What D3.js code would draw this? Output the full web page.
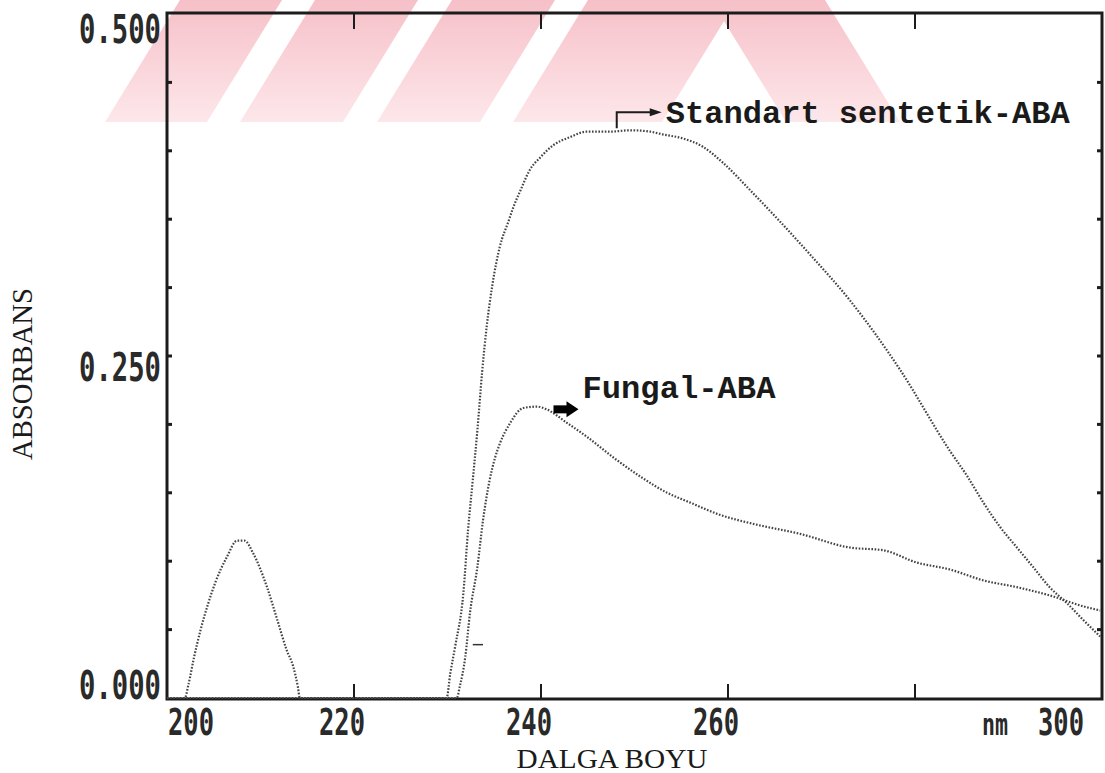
<!DOCTYPE html>
<html><head><meta charset="utf-8">
<script src="https://cdn.jsdelivr.net/npm/d3@7"></script>
<style>body{margin:0;background:#fff}svg{display:block}</style>
</head><body>
<svg id="chart" width="1105" height="773"></svg>
<script>
// ---------- data ----------
const standardNm  = [200, 229.9, 230.3, 230.8, 231.7, 232.2, 232.7, 233.2, 233.7, 234.2, 234.8, 235.6, 236.5, 237.0, 237.8, 238.8, 239.9, 241.3, 243.1, 244.9, 247.4, 249.5, 251.7, 253.0, 255.2, 257.3, 259.5, 262.4, 265.6, 268.8, 273.0, 278.4, 283.7, 285.6, 287.3, 289.1, 290.9, 292.6, 294.4, 296.3, 298.0, 299.8];
const standardAbs = [0, 0, 0.018, 0.037, 0.077, 0.123, 0.159, 0.196, 0.238, 0.272, 0.302, 0.330, 0.348, 0.358, 0.371, 0.386, 0.395, 0.404, 0.410, 0.414, 0.414, 0.415, 0.414, 0.412, 0.409, 0.403, 0.391, 0.371, 0.348, 0.324, 0.291, 0.240, 0.181, 0.162, 0.143, 0.125, 0.110, 0.096, 0.081, 0.069, 0.057, 0.045];
const fungalNm  = [200, 201.9, 202.3, 202.9, 203.6, 204.4, 205.2, 206.4, 207.5, 208.3, 209.2, 210.7, 211.8, 212.8, 213.5, 214.0, 214.2, 231.0, 231.3, 231.9, 232.4, 233.2, 233.8, 234.5, 235.1, 235.6, 236.7, 238.1, 239.6, 240.6, 242.8, 244.9, 247.7, 250.6, 253.5, 255.9, 259.1, 262.9, 267.7, 273.0, 276.6, 280.2, 283.7, 287.3, 290.9, 294.4, 298.0, 299.8];
const fungalAbs = [0, 0, 0.010, 0.030, 0.050, 0.069, 0.085, 0.103, 0.115, 0.115, 0.106, 0.081, 0.057, 0.035, 0.023, 0.008, 0, 0, 0.008, 0.030, 0.062, 0.096, 0.130, 0.159, 0.176, 0.186, 0.201, 0.212, 0.213, 0.211, 0.201, 0.191, 0.176, 0.162, 0.150, 0.143, 0.134, 0.127, 0.120, 0.110, 0.108, 0.099, 0.094, 0.086, 0.081, 0.075, 0.067, 0.064];
const xTickLabels = [200, 220, 240, 260, 300];
const xTicks = [220, 240, 260, 280];
const yTickLabels = [0, 0.25, 0.5];
const yTicks = [0.05, 0.10, 0.15, 0.20, 0.25, 0.30, 0.35, 0.40, 0.45];
const labels = {x: "DALGA BOYU", y: "ABSORBANS", unit: "nm", standard: "Standart sentetik-ABA", fungal: "Fungal-ABA"};
const standardMark = [248.1, 0.415];
const fungalMark = [240.8, 0.211];

// ---------- drawing ----------
const svg = d3.select("#chart");
const W = 1105, H = 773;
const x = d3.scaleLinear().domain([200, 300]).range([167, 1102]);
const y = d3.scaleLinear().domain([0, 0.5]).range([698, 14]);

// watermark (decorative pale red stripes at the top of the scan)
const defs = svg.append("defs");
const grad = defs.append("linearGradient").attr("id", "wm").attr("x1", 0).attr("y1", 0).attr("x2", 0).attr("y2", 1);
grad.append("stop").attr("offset", 0).attr("stop-color", "#f6c0c8");
grad.append("stop").attr("offset", 1).attr("stop-color", "#fde7ea");
defs.append("clipPath").attr("id", "wmclip").append("rect").attr("x", 0).attr("y", 0).attr("width", W).attr("height", 122);
const wm = svg.append("g").attr("clip-path", "url(#wmclip)");
const slant = 75, bottom = 122;
const leftBands = [[105, 207], [240, 343], [377, 480], [513, 662]];
const rightBands = [[786, 900]];
leftBands.forEach(([a, b]) => {
  wm.append("path").attr("fill", "url(#wm)")
    .attr("d", `M${a},${bottom} L${b},${bottom} L${b + slant},0 L${a + slant},0 Z`);
});
rightBands.forEach(([a, b]) => {
  wm.append("path").attr("fill", "url(#wm)")
    .attr("d", `M${a},${bottom} L${b},${bottom} L${b - slant},0 L${a - slant},0 Z`);
});

// frame
const ink = "#1c1c1c";
svg.append("rect").attr("x", x(200)).attr("y", y(0.5) - 1)
  .attr("width", x(300) - x(200)).attr("height", y(0) - y(0.5) + 2)
  .attr("fill", "none").attr("stroke", ink).attr("stroke-width", 3);

// ticks
const g = svg.append("g");
g.selectAll(".tb").data(xTicks).join("line").attr("class", "tb")
  .attr("x1", d => x(d)).attr("x2", d => x(d)).attr("y1", y(0)).attr("y2", y(0) - 14)
  .attr("stroke", ink).attr("stroke-width", 2);
g.selectAll(".tt").data(xTicks).join("line").attr("class", "tt")
  .attr("x1", d => x(d)).attr("x2", d => x(d)).attr("y1", y(0.5)).attr("y2", y(0.5) + 15)
  .attr("stroke", ink).attr("stroke-width", 2);
g.selectAll(".tl").data(yTicks).join("line").attr("class", "tl")
  .attr("x1", x(200)).attr("x2", x(200) + 5).attr("y1", d => y(d)).attr("y2", d => y(d))
  .attr("stroke", ink).attr("stroke-width", 3);
g.selectAll(".tr").data(yTicks).join("line").attr("class", "tr")
  .attr("x1", x(300)).attr("x2", x(300) - 5).attr("y1", d => y(d)).attr("y2", d => y(d))
  .attr("stroke", ink).attr("stroke-width", 3);

// tick labels (dot-matrix look: tall narrow mono, squeezed horizontally)
const tickFont = "'DejaVu Sans Mono', monospace";
function narrowText(sel, px, py, anchor, size, width, str) {
  const t = sel.append("g").attr("transform", `translate(${px},${py})`)
    .append("text").attr("text-anchor", anchor).attr("dominant-baseline", "central")
    .attr("font-family", tickFont).attr("font-weight", "bold").attr("font-size", size)
    .attr("fill", "#2a2a2a").text(str);
  const natural = t.node().getComputedTextLength();
  t.attr("transform", `scale(${width / natural},1)`);
}
const yLab = svg.append("g");
const yOffset = d => d === 0.5 ? 16 : (d === 0 ? -12 : 12);
yTickLabels.forEach(d => narrowText(yLab, x(200) - 6, y(d) + yOffset(d), "end", 39, 82, d3.format(".3f")(d)));

const xLab = svg.append("g");
const xPos = d => d === 200 ? x(d) + 1 : (d === 300 ? x(d) - 18 : x(d) - 12);
const xAnchor = d => d === 200 ? "start" : (d === 300 ? "end" : "middle");
xTickLabels.forEach(d => narrowText(xLab, xPos(d), y(0) + 24, xAnchor(d), 38, 46, String(d)));
narrowText(xLab, x(300) - 107, y(0) + 27, "middle", 30, 26, labels.unit);

// axis titles
svg.append("text").attr("x", 612).attr("y", 768).attr("text-anchor", "middle")
  .attr("font-family", "'Liberation Serif', serif").attr("font-size", 28)
  .attr("textLength", 191).attr("lengthAdjust", "spacingAndGlyphs")
  .attr("fill", "#1a1a1a").text(labels.x);
svg.append("text").attr("transform", "translate(32,374) rotate(-90)").attr("text-anchor", "middle")
  .attr("font-family", "'Liberation Serif', serif").attr("font-size", 29)
  .attr("textLength", 172).attr("lengthAdjust", "spacingAndGlyphs")
  .attr("fill", "#1a1a1a").text(labels.y);

// curves
const line = d3.line().x(d => x(d[0])).y(d => y(d[1])).curve(d3.curveMonotoneX);
const std = standardNm.map((v, i) => [v, standardAbs[i]]);
const fun = fungalNm.map((v, i) => [v, fungalAbs[i]]);
[std, fun].forEach(s => {
  svg.append("path").datum(s).attr("d", line)
    .attr("fill", "none").attr("stroke", "#444").attr("stroke-width", 2.2)
    .attr("stroke-dasharray", "1.6 1.6");
});
// small printer dash near the rising edges
svg.append("line").attr("x1", x(232.7)).attr("x2", x(233.8)).attr("y1", y(0.039)).attr("y2", y(0.039))
  .attr("stroke", "#333").attr("stroke-width", 1.5);

// annotations
const sx = x(standardMark[0]), sy = y(standardMark[1]);
svg.append("path").attr("d", `M${sx},${sy - 2} V${sy - 18} H${sx + 36}`)
  .attr("fill", "none").attr("stroke", ink).attr("stroke-width", 2);
svg.append("path").attr("d", `M${sx + 33},${sy - 22} L${sx + 45},${sy - 18} L${sx + 33},${sy - 14} Z`).attr("fill", ink);
svg.append("text").attr("x", sx + 49).attr("y", sy - 7)
  .attr("font-family", "'Liberation Mono', monospace").attr("font-weight", "bold").attr("font-size", 31)
  .attr("textLength", 404).attr("lengthAdjust", "spacingAndGlyphs")
  .attr("fill", "#1a1a1a").text(labels.standard);

const fx = x(fungalMark[0]), fy = y(fungalMark[1]);
svg.append("rect").attr("x", fx + 5).attr("y", fy - 4).attr("width", 16).attr("height", 8).attr("fill", "#000");
svg.append("path").attr("d", `M${fx + 18},${fy - 8} L${fx + 30},${fy} L${fx + 18},${fy + 8} Z`).attr("fill", "#000");
svg.append("text").attr("x", fx + 34).attr("y", fy - 11)
  .attr("font-family", "'Liberation Mono', monospace").attr("font-weight", "bold").attr("font-size", 31)
  .attr("textLength", 193).attr("lengthAdjust", "spacingAndGlyphs")
  .attr("fill", "#1a1a1a").text(labels.fungal);
</script>
</body></html>
